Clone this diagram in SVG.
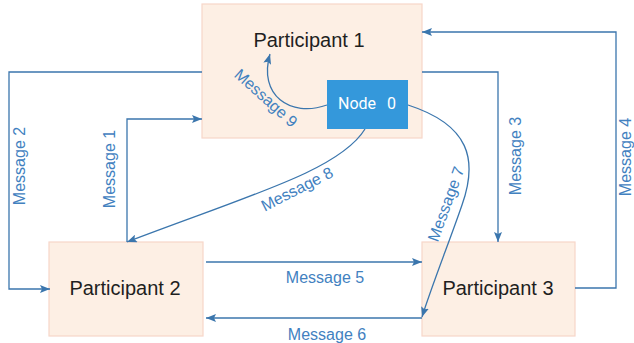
<svg xmlns="http://www.w3.org/2000/svg" width="634" height="343" viewBox="0 0 634 343">
  <style>
    .box { fill: #fdefe4; stroke: #f7d6c9; stroke-width: 1.2; }
    .title { font-family: "Liberation Sans", Arial, sans-serif; font-size: 20px; fill: #1f1f1f; text-anchor: middle; }
    .edge { fill: none; stroke: #3b76ad; stroke-width: 1.3; marker-end: url(#arrow); }
    .lbl { font-family: "Liberation Sans", Arial, sans-serif; font-size: 16px; fill: #4281bf; text-anchor: middle; }
    .node { fill: #3498db; }
    .nodetxt { font-family: Roboto, "Liberation Sans", sans-serif; font-size: 16px; fill: #ffffff; }
  </style>
  <defs>
    <marker id="arrow" viewBox="0 0 10 8" markerWidth="10" markerHeight="8" refX="10" refY="4" orient="auto" markerUnits="userSpaceOnUse">
      <path d="M0,0 L10,4 L0,8 L2,4 z" fill="#3b76ad"/>
    </marker>
  </defs>

  <g id="participant1">
    <rect class="box" x="202" y="4" width="220" height="134"/>
    <text class="title" x="309" y="47">Participant 1</text>
  </g>
  <g id="participant2">
    <rect class="box" x="49" y="242" width="154" height="94"/>
    <text class="title" x="125" y="295">Participant 2</text>
  </g>
  <g id="participant3">
    <rect class="box" x="422" y="242" width="153" height="94"/>
    <text class="title" x="498" y="295">Participant 3</text>
  </g>

  <g id="connectors">
    <!-- Message 1 -->
    <path class="edge" d="M127,242 L127,119 L202,119"/>
    <text class="lbl" transform="translate(109,169) rotate(-90)" y="5.5">Message 1</text>
    <!-- Message 2 -->
    <path class="edge" d="M202,72 L9,72 L9,289 L50,289"/>
    <text class="lbl" transform="translate(19.5,166) rotate(-90)" y="5.5">Message 2</text>
    <!-- Message 3 -->
    <path class="edge" d="M422,72 L498,72 L498,242"/>
    <text class="lbl" transform="translate(515,156) rotate(-90)" y="5.5">Message 3</text>
    <!-- Message 4 -->
    <path class="edge" d="M575,288 L616,288 L616,32 L422,32"/>
    <text class="lbl" transform="translate(625,157) rotate(-90)" y="5.5">Message 4</text>
    <!-- Message 5 -->
    <path class="edge" d="M206,262 L422,262"/>
    <text class="lbl" x="325" y="283">Message 5</text>
    <!-- Message 6 -->
    <path class="edge" d="M422,318 L206,318"/>
    <text class="lbl" x="327" y="340">Message 6</text>
    <!-- Message 7 -->
    <path class="edge" d="M408,105 C470,125 478,160 462,205 C450,240 432,285 422,317"/>
    <text class="lbl" transform="translate(446,204) rotate(-70)" y="5.5">Message 7</text>
    <!-- Message 8 -->
    <path class="edge" d="M365,129 C340,170 250,195 127,242"/>
    <text class="lbl" transform="translate(297,189) rotate(-27)" y="5.5">Message 8</text>
    <!-- Message 9 -->
    <path class="edge" d="M327,105 C290,118 258,95 270,54"/>
    <text class="lbl" transform="translate(266,98) rotate(42)" y="5.5">Message 9</text>
  </g>

  <g id="node0">
    <rect class="node" x="327" y="80" width="81" height="49"/>
    <text class="nodetxt" x="338" y="109">Node<tspan dx="11">0</tspan></text>
  </g>
</svg>
